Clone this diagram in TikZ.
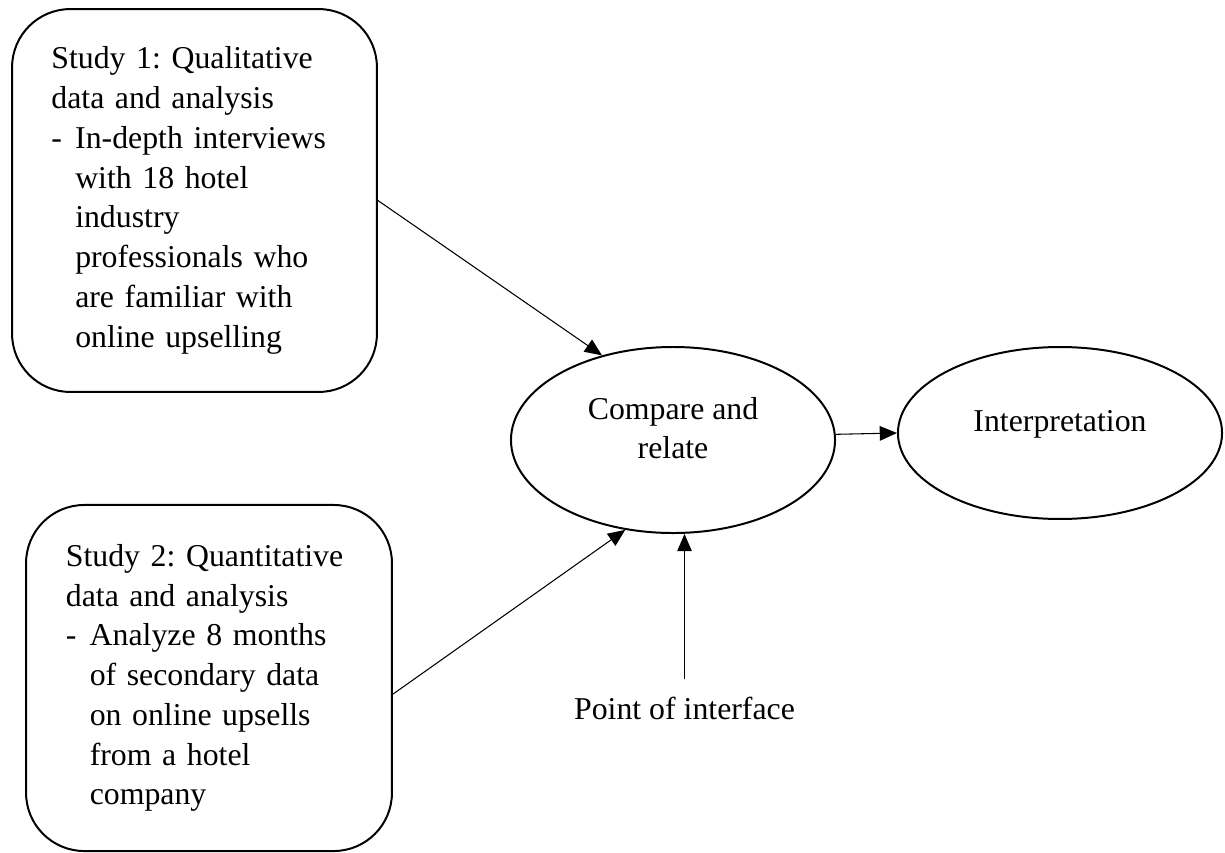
\documentclass[tikz,border=0pt]{standalone}
\usepackage{fontspec}
\setmainfont{Liberation Serif}
\usepackage{xcolor}
\usepackage{tikz}
\usetikzlibrary{arrows.meta,shapes.geometric}
\definecolor{ink}{HTML}{000000}
\newcommand{\bul}{\makebox[9pt][l]{-}}
\newcommand{\ind}{\hspace*{9pt}}
\frenchspacing
\tikzset{
  txt/.style={text=ink, font=\fontsize{12}{15}\selectfont},
  box/.style={txt, draw=ink, line width=0.75pt, rounded corners=22pt, text width=108pt, align=left, inner sep=0pt},
  oval/.style={txt, ellipse, draw=ink, line width=0.75pt, align=center, inner sep=0pt, text depth=9pt},
  arr/.style={draw=ink, line width=0.4pt, -{Triangle[length=6.5pt,width=5.5pt]}}
}

\begin{document}
\begin{tikzpicture}[x=0.3774pt,y=-0.3774pt]
\useasboundingbox (0,0) rectangle (1225,852);
% the two studies
\node[box, minimum width=137.7pt, minimum height=144.5pt] (s1) at (194.5,200.5)
  {Study 1: Qualitative\\ data and analysis\\ \bul In-depth interviews\\ \ind with 18 hotel\\ \ind industry\\ \ind professionals who\\ \ind are familiar with\\ \ind online upselling};
\node[box, minimum width=138.1pt, minimum height=130.6pt] (s2) at (209,678)
  {Study 2: Quantitative\\ data and analysis\\ \bul Analyze 8 months\\ \ind of secondary data\\ \ind on online upsells\\ \ind from a hotel\\ \ind company};

\node[oval, minimum width=122.3pt, minimum height=70.2pt] (cmp) at (673,440) {Compare and\\ relate};
\node[oval, minimum width=122.3pt, minimum height=64.9pt] (interp) at (1060,433) {Interpretation};
\node[txt, anchor=base] (poi) at (684.5,719) {Point of interface};

\draw[arr] (s1.east) -- (cmp.130);
\draw[arr] (s2.-5) -- (cmp.242);
\draw[arr, shorten <=3pt] (poi.north) -- (poi.north |- cmp.south);
\draw[arr] (cmp.2.5) -- (interp.west);
\end{tikzpicture}
\end{document}
